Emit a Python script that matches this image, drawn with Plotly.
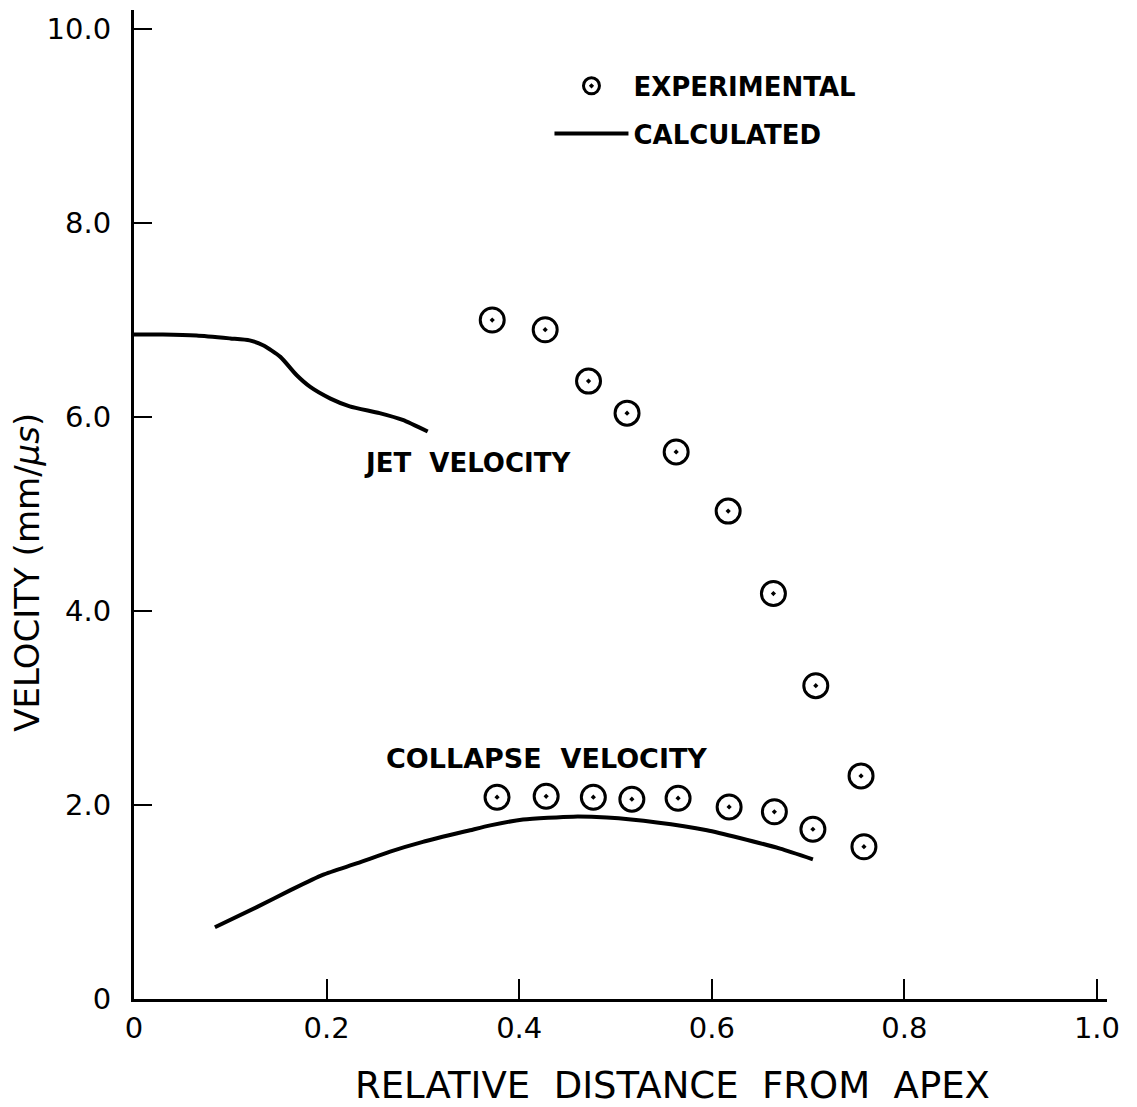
import plotly.graph_objects as go

# ---- data ----
jet_exp_x = [0.372, 0.427, 0.472, 0.512, 0.563, 0.617, 0.664, 0.708, 0.755]
jet_exp_y = [7.00, 6.90, 6.37, 6.04, 5.64, 5.03, 4.18, 3.23, 2.30]

col_exp_x = [0.377, 0.428, 0.477, 0.517, 0.565, 0.618, 0.665, 0.705, 0.758]
col_exp_y = [2.08, 2.09, 2.08, 2.06, 2.07, 1.98, 1.93, 1.75, 1.57]

jet_calc_x = [0.0, 0.030, 0.065, 0.100, 0.120, 0.134, 0.152, 0.169, 0.183, 0.204, 0.224, 0.255, 0.279, 0.305]
jet_calc_y = [6.85, 6.85, 6.84, 6.81, 6.79, 6.74, 6.62, 6.43, 6.31, 6.19, 6.11, 6.04, 5.97, 5.85]

col_calc_x = [0.084, 0.128, 0.162, 0.196, 0.232, 0.266, 0.300, 0.349, 0.370, 0.404, 0.456, 0.491, 0.543, 0.595, 0.629, 0.671, 0.705]
col_calc_y = [0.74, 0.95, 1.12, 1.28, 1.40, 1.52, 1.62, 1.74, 1.79, 1.85, 1.88, 1.87, 1.82, 1.74, 1.66, 1.55, 1.44]

x_ticks = [0, 0.2, 0.4, 0.6, 0.8, 1.0]
x_tick_labels = ["0", "0.2", "0.4", "0.6", "0.8", "1.0"]
y_ticks = [0, 2, 4, 6, 8, 10]
y_tick_labels = ["0", "2.0", "4.0", "6.0", "8.0", "10.0"]

FONT = "DejaVu Sans"

marker_style = dict(symbol="circle-open-dot", size=24, color="black",
                    line=dict(color="black", width=3))

fig = go.Figure()
fig.add_trace(go.Scatter(x=jet_exp_x, y=jet_exp_y, mode="markers", marker=marker_style,
                         name="EXPERIMENTAL", legendgroup="exp", showlegend=True))
fig.add_trace(go.Scatter(x=col_exp_x, y=col_exp_y, mode="markers", marker=marker_style,
                         name="EXPERIMENTAL", legendgroup="exp", showlegend=False))
fig.add_trace(go.Scatter(x=jet_calc_x, y=jet_calc_y, mode="lines",
                         line=dict(color="black", width=4, shape="spline", smoothing=0.6),
                         name="CALCULATED", legendgroup="calc", showlegend=True))
fig.add_trace(go.Scatter(x=col_calc_x, y=col_calc_y, mode="lines",
                         line=dict(color="black", width=4, shape="spline", smoothing=0.6),
                         name="CALCULATED", legendgroup="calc", showlegend=False))

fig.add_annotation(x=0.346, y=5.53, xref="x", yref="y", text="JET\u00a0\u00a0VELOCITY", showarrow=False,
                   font=dict(family=FONT, size=26, color="black", weight="bold"))
fig.add_annotation(x=0.428, y=2.48, xref="x", yref="y", text="COLLAPSE\u00a0\u00a0VELOCITY", showarrow=False,
                   font=dict(family=FONT, size=27, color="black", weight="bold"))

# axis titles
fig.add_annotation(x=-0.110, y=0.432, xref="paper", yref="paper", text="VELOCITY (mm/<i>μs</i>)",
                   textangle=-90, showarrow=False, xanchor="center", yanchor="middle",
                   font=dict(family=FONT, size=34, color="black"))
fig.add_annotation(x=0.553, y=-0.087, xref="paper", yref="paper",
                   text="RELATIVE\u00a0\u00a0DISTANCE\u00a0\u00a0FROM\u00a0\u00a0APEX",
                   showarrow=False, xanchor="center", yanchor="middle",
                   font=dict(family=FONT, size=37, color="black"))

fig.update_layout(
    width=1137, height=1107,
    paper_bgcolor="white", plot_bgcolor="white",
    margin=dict(l=134, r=30, t=10, b=108),
    showlegend=True,
    legend=dict(x=0.427, y=0.947, xanchor="left", yanchor="top",
                traceorder="grouped", tracegroupgap=11, itemwidth=74,
                font=dict(family=FONT, size=26, color="black", weight="bold"),
                bgcolor="rgba(0,0,0,0)"),
    xaxis=dict(range=[0, 1.0104], tickvals=x_ticks, ticktext=x_tick_labels,
               showgrid=False, zeroline=False, showline=True, linecolor="black", linewidth=3,
               ticks="inside", ticklen=20, tickwidth=2, tickcolor="black",
               ticklabelstandoff=1,
               tickfont=dict(family=FONT, size=29, color="black")),
    yaxis=dict(range=[0, 10.196], tickvals=y_ticks, ticktext=y_tick_labels,
               showgrid=False, zeroline=False, showline=True, linecolor="black", linewidth=3,
               ticks="inside", ticklen=18, tickwidth=2, tickcolor="black",
               ticklabelstandoff=14,
               tickfont=dict(family=FONT, size=29, color="black")),
)

fig.write_html("out.html")
